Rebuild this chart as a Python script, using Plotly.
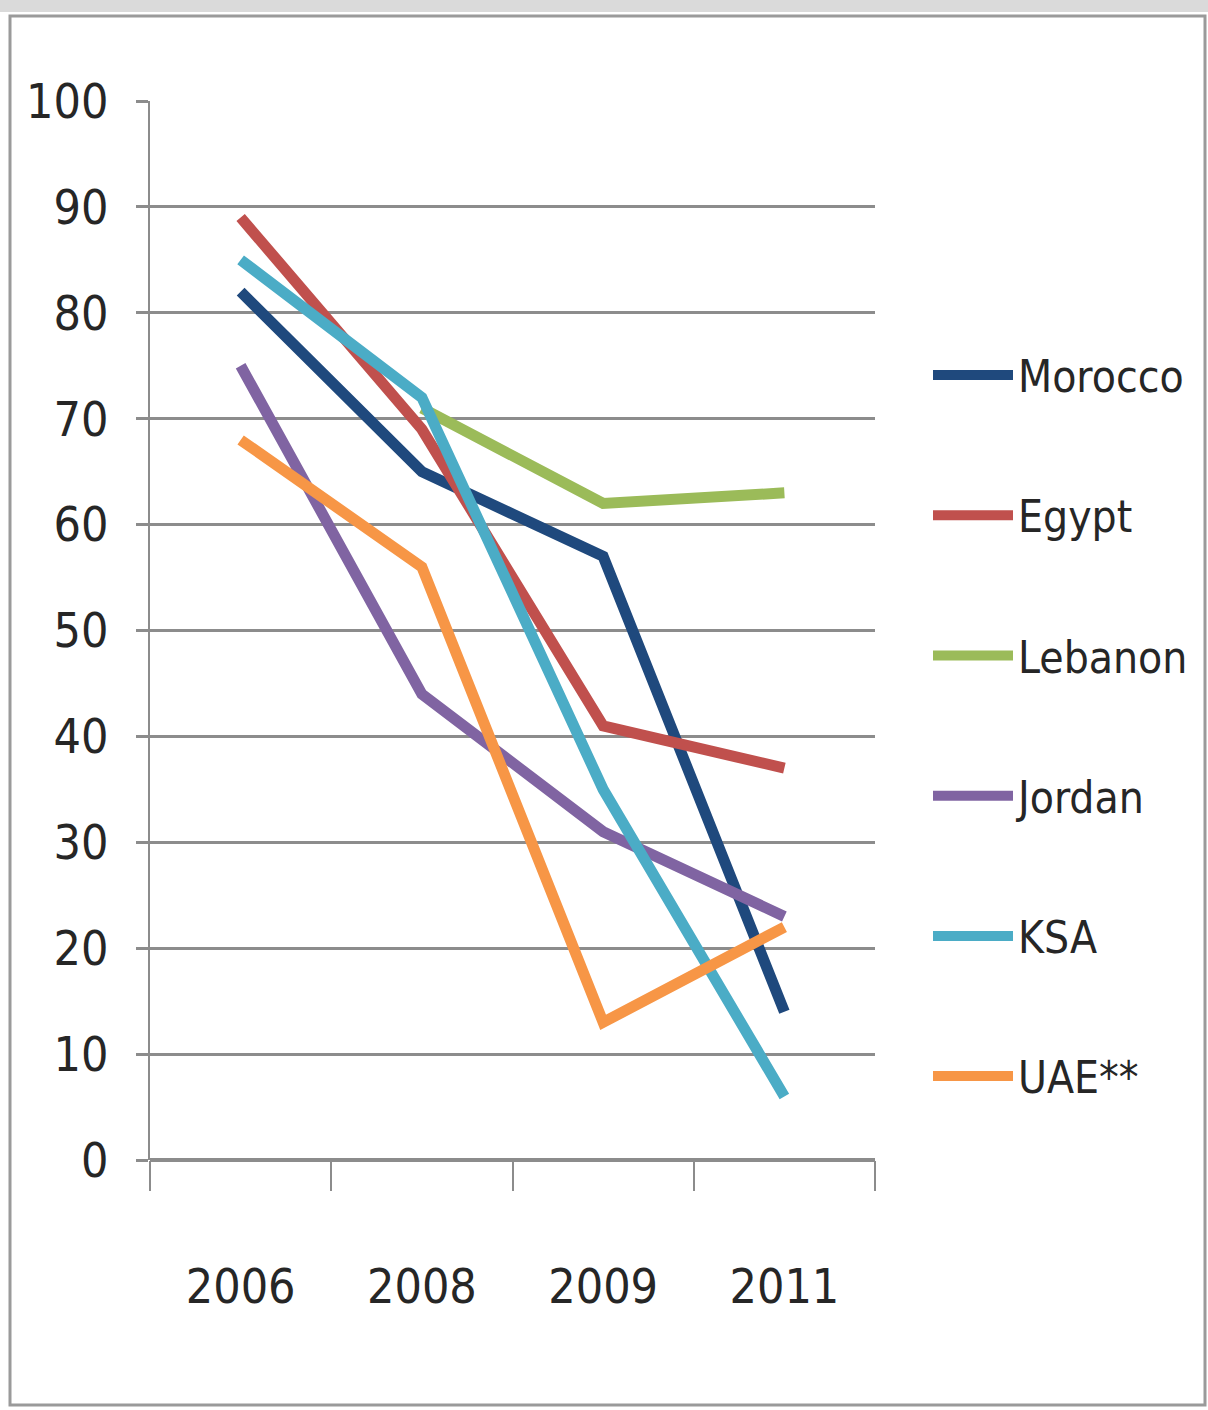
import plotly.graph_objects as go

# Survey years (category axis) and series values
years = ["2006", "2008", "2009", "2011"]
morocco = [82, 65, 57, 14]
egypt = [89, 69, 41, 37]
lebanon = [None, 71, 62, 63]
jordan = [75, 44, 31, 23]
ksa = [85, 72, 35, 6]
uae = [68, 56, 13, 22]

series_names = ["Morocco", "Egypt", "Lebanon", "Jordan", "KSA", "UAE**"]
series_values = [morocco, egypt, lebanon, jordan, ksa, uae]
series_colors = ["#1F497D", "#C0504D", "#9BBB59", "#8064A2", "#4BACC6", "#F79646"]

y_ticks = list(range(0, 101, 10))

FONT = "DejaVu Sans Condensed, Liberation Sans Narrow, Arial Narrow, Liberation Sans, sans-serif"
TEXT = "#262626"
GRID = "#8C8C8C"

fig = go.Figure()
for i, (name, vals, col) in enumerate(zip(series_names, series_values, series_colors)):
    fig.add_trace(go.Scatter(
        x=years, y=vals, name=name, mode="lines",
        line=dict(color=col, width=11),
        legendgroup=f"g{i}",
        connectgaps=False,
    ))

W, H = 1208, 1410
L, R, T, B = 150, 875, 101, 1160  # plot area in px


def px_x(p):
    return (p - L) / (R - L)


def px_y(p):
    return (B - p) / (B - T)


fig.update_layout(
    width=W, height=H,
    margin=dict(l=L, r=W - R, t=T, b=H - B, autoexpand=False),
    paper_bgcolor="white", plot_bgcolor="white",
    font=dict(family=FONT, color=TEXT, size=46),
    showlegend=True,
    legend=dict(
        x=px_x(928), y=px_y(340), xanchor="left", yanchor="top",
        font=dict(family=FONT, size=44, color=TEXT),
        tracegroupgap=80, itemwidth=80,
        bgcolor="rgba(0,0,0,0)",
    ),
    xaxis=dict(
        type="category", categoryorder="array", categoryarray=years,
        range=[-0.5, len(years) - 0.5],
        showgrid=False, showline=False, zeroline=False,
        ticks="outside", tickson="boundaries", ticklen=30, tickwidth=2,
        tickcolor=GRID, ticklabelstandoff=94,
        tickfont=dict(family=FONT, size=48, color=TEXT),
    ),
    yaxis=dict(
        range=[0, 100], tickvals=y_ticks,
        showgrid=True, gridcolor=GRID, gridwidth=3,
        showline=True, linecolor=GRID, linewidth=2,
        zeroline=True, zerolinecolor=GRID, zerolinewidth=4,
        ticks="outside", ticklen=12, tickwidth=3, tickcolor=GRID,
        ticklabelstandoff=18,
        tickfont=dict(family=FONT, size=48, color=TEXT),
    ),
    shapes=[
        # light band along the top edge
        dict(type="rect", xref="paper", yref="paper",
             x0=px_x(0), x1=px_x(W), y0=px_y(12), y1=px_y(0),
             fillcolor="#DADADA", line=dict(width=0), layer="below"),
        # chart frame
        dict(type="rect", xref="paper", yref="paper",
             x0=px_x(10), x1=px_x(1205), y0=px_y(1405), y1=px_y(16),
             fillcolor="rgba(0,0,0,0)", line=dict(color="#9A9A9A", width=3),
             layer="below"),
    ],
)

fig.write_html("out.html")
